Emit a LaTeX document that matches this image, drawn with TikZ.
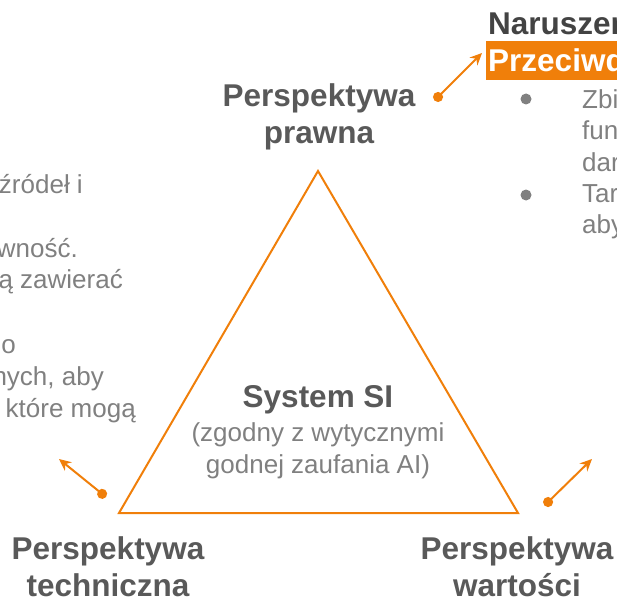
\documentclass[tikz,border=0pt]{standalone}
\usepackage{fontspec}
\setmainfont{Liberation Sans}
\usetikzlibrary{arrows.meta, positioning}

\definecolor{slideorange}{RGB}{240,127,10}
\definecolor{titlegray}{RGB}{89,89,89}
\definecolor{headgray}{RGB}{67,67,67}
\definecolor{bodygray}{RGB}{128,128,128}

\begin{document}
\begin{tikzpicture}[x=1pt,y=-1pt,
  title node/.style={align=center,inner sep=0pt,anchor=north,text=titlegray,
    font=\fontsize{31.5}{37}\selectfont\bfseries},
  note node/.style={inner sep=0pt,text=bodygray,font=\fontsize{26}{31.5}\selectfont},
  link/.style={draw=slideorange,line width=2pt,
    {Circle[length=10pt]}-{Stealth[length=12pt,width=11pt]}},
  side/.style={draw=slideorange,line width=2pt,line join=miter}]

  \useasboundingbox (0,0) rectangle (617,604);
  \clip (0,0) rectangle (617,604);

  % triangle
  \coordinate (apex) at (318,171);
  \coordinate (bl) at (119,513);
  \coordinate (br) at (518,513);
  \draw[side] (apex) -- (bl) -- (br) -- cycle;

  % perspectives
  \node[title node] (law) at (319,83) {Perspektywa\\prawna};
  \node[title node] (tech) at (108,536.5) {Perspektywa\\techniczna};
  \node[title node] (values) at (517,536.5) {Perspektywa\\wartości};

  \node[inner sep=0pt,anchor=base,text=titlegray,
    font=\fontsize{31.5}{37}\selectfont\bfseries] (sys) at (318,407) {System SI};
  \node[note node,align=center,below=8.5pt of sys,font=\fontsize{26}{32}\selectfont] (sysnote)
    {(zgodny z wytycznymi\\godnej zaufania AI)};

  % text cut at the left edge
  \node[note node,anchor=base east] (l1) at (83,193) {źródeł i};
  \node[note node,anchor=base east] (l2) at (78,257) {wność.};
  \node[note node,anchor=base east] (l3) at (123,288) {ą zawierać};
  \node[note node,anchor=base east] (l4) at (16,353) {o};
  \node[note node,anchor=base east] (l5) at (104,385) {nych, aby};
  \node[note node,anchor=base east] (l6) at (136,417) {które mogą};

  % text cut at the right edge
  \node[inner sep=0pt,anchor=base west,text=headgray,
    font=\fontsize{31.5}{37}\selectfont\bfseries] (head) at (488,35) {Naruszen};
  \node[fill=slideorange,text=white,anchor=north west,minimum height=39pt,
    inner xsep=2pt,inner ysep=0pt,font=\fontsize{31.5}{37}\selectfont\bfseries]
    (box) at (486,41) {Przeciwd};
  \fill[bodygray] (526,99) circle (5.5);
  \fill[bodygray] (526,195) circle (5.5);
  \node[note node,align=left,anchor=north west] (r1) at (582,89) {Zbi\\fun\\dar};
  \node[note node,align=left,anchor=north west] (r2) at (582,184) {Tar\\aby};

  % arrows
  \coordinate (d1) at (434.5,100.5);
  \coordinate (a1) at (482,53);
  \coordinate (d2) at (106,497);
  \coordinate (a2) at (59,459);
  \coordinate (d3) at (544.5,505.5);
  \coordinate (a3) at (592,459);
  \draw[link] (d1) -- (a1);
  \draw[link] (d2) -- (a2);
  \draw[link] (d3) -- (a3);
\end{tikzpicture}
\end{document}
